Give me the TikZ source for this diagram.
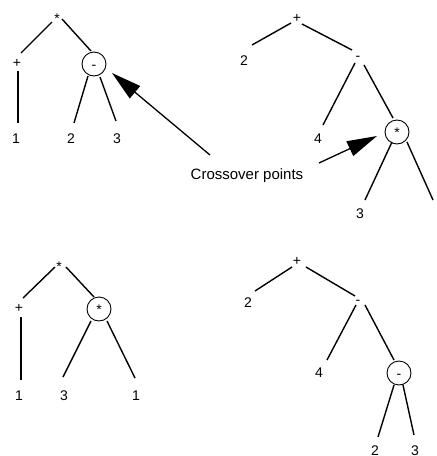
\documentclass[tikz,border=0pt]{standalone}
\usepackage{fontspec}
\setmainfont{Liberation Sans}
\usetikzlibrary{arrows.meta}
\begin{document}
\begin{tikzpicture}[x=1pt,y=-1pt,
  lab/.style={inner sep=0pt, text height=10pt, text depth=0pt, font=\fontsize{14}{16}\selectfont},
  opc/.style={lab, circle, draw, line width=0.9pt, minimum size=24pt},
  edge/.style={line width=1.4pt},
  stem/.style={line width=2pt},
  pointer/.style={line width=1.3pt, -{Triangle[length=30pt,width=16pt]}},
  caption/.style={inner sep=0pt, text height=10.7pt, text depth=0pt, font=\fontsize{15}{17}\selectfont}]
\useasboundingbox (0,0) rectangle (437,456);

% parent 1: (+ 1) * (2 - 3)
\node[lab] (a0) at (57,18) {*};
\node[lab] (a1) at (17,62) {+};
\node[opc] (a2) at (94,64) {-};
\node[lab] (a3) at (16,138) {1};
\node[lab] (a4) at (71,138) {2};
\node[lab] (a5) at (117,138) {3};
\draw[edge] ([shift={(-5,4)}]a0.center) -- ([shift={(4,-9)}]a1.center);
\draw[edge] ([shift={(5,1)}]a0.center) -- ([shift={(-3,-13)}]a2.center);
\draw[stem] ([shift={(1,9)}]a1.center) -- ([shift={(2,-15)}]a3.center);
\draw[edge] ([shift={(-6,12)}]a2.center) -- ([shift={(3,-15)}]a4.center);
\draw[edge] ([shift={(6,13)}]a2.center) -- ([shift={(-1,-17)}]a5.center);

% parent 2: 2 + (4 - (3 * 1))
\node[lab] (b0) at (297,17) {+};
\node[lab] (b1) at (244,60) {2};
\node[lab] (b2) at (358,55) {-};
\node[lab] (b3) at (318,138) {4};
\node[opc] (b4) at (397,132) {*};
\node[lab] (b5) at (360,213) {3};
\node[lab] (b6) at (441,213) {1};
\draw[edge] ([shift={(-6,6)}]b0.center) -- ([shift={(8,-15)}]b1.center);
\draw[edge] ([shift={(5,7)}]b0.center) -- ([shift={(-6,-5)}]b2.center);
\draw[edge] ([shift={(-3,8)}]b2.center) -- ([shift={(5,-13)}]b3.center);
\draw[edge] ([shift={(6,10)}]b2.center) -- ([shift={(-4,-14)}]b4.center);
\draw[edge] ([shift={(-5,10)}]b4.center) -- ([shift={(5,-13)}]b5.center);
\draw[edge] ([shift={(10,10)}]b4.center) -- ([shift={(-8,-13)}]b6.center);

% crossover label and its two pointers
\node[caption] (cross) at (247,174) {Crossover points};
\draw[pointer] ([shift={(-37,-19)}]cross.center) -- ([shift={(18,9)}]a2.center);
\draw[pointer] ([shift={(72,-11)}]cross.center) -- ([shift={(-20,4)}]b4.center);

% child 1: (+ 1) * (3 * 1)
\node[lab] (c0) at (59,266) {*};
\node[lab] (c1) at (19,307) {+};
\node[opc] (c2) at (99,309) {*};
\node[lab] (c3) at (19,395) {1};
\node[lab] (c4) at (64,395) {3};
\node[lab] (c5) at (136,395) {1};
\draw[edge] ([shift={(-4,1)}]c0.center) -- ([shift={(4,-9)}]c1.center);
\draw[edge] ([shift={(7,1)}]c0.center) -- ([shift={(-5,-12)}]c2.center);
\draw[stem] ([shift={(2,10)}]c1.center) -- ([shift={(2,-15)}]c3.center);
\draw[edge] ([shift={(-8,12)}]c2.center) -- ([shift={(-1,-18)}]c4.center);
\draw[edge] ([shift={(8,12)}]c2.center) -- ([shift={(-1,-17)}]c5.center);

% child 2: 2 + (4 - (2 - 3))
\node[lab] (d0) at (297,260) {+};
\node[lab] (d1) at (248,302) {2};
\node[lab] (d2) at (358,299) {-};
\node[lab] (d3) at (319,372) {4};
\node[opc] (d4) at (399,373) {-};
\node[lab] (d5) at (375,450) {2};
\node[lab] (d6) at (415,450) {3};
\draw[edge] ([shift={(-5,7)}]d0.center) -- ([shift={(7,-11)}]d1.center);
\draw[edge] ([shift={(9,7)}]d0.center) -- ([shift={(-3,-3)}]d2.center);
\draw[edge] ([shift={(-2,6)}]d2.center) -- ([shift={(8,-12)}]d3.center);
\draw[edge] ([shift={(7,6)}]d2.center) -- ([shift={(-5,-13)}]d4.center);
\draw[edge] ([shift={(-5,12)}]d4.center) -- ([shift={(3,-13)}]d5.center);
\draw[edge] ([shift={(4,12)}]d4.center) -- ([shift={(-1,-15)}]d6.center);
\end{tikzpicture}
\end{document}
